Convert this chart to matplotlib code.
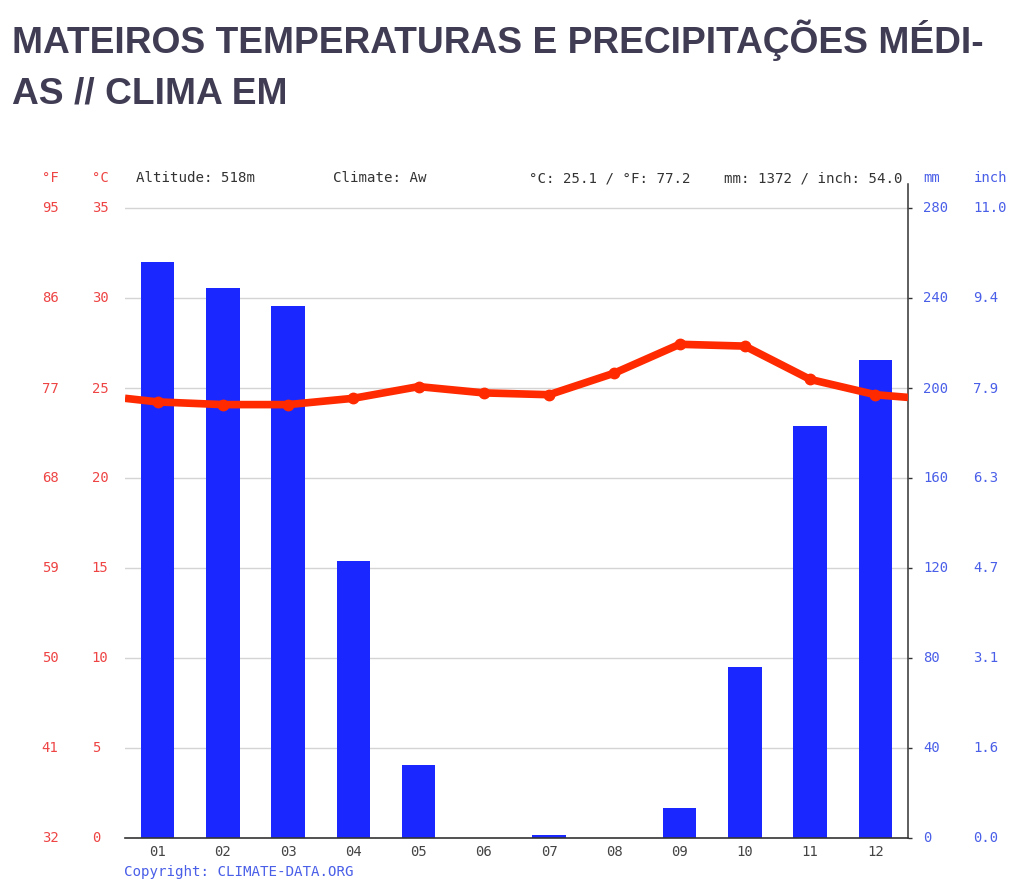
import matplotlib
matplotlib.use("Agg")
import matplotlib.pyplot as plt
import numpy as np

months = ["01", "02", "03", "04", "05", "06", "07", "08", "09", "10", "11", "12"]
precip_mm = [255.6, 244.4, 236.4, 122.7, 32.4, 0, 1.3, 0, 13.3, 75.6, 182.7, 212.4]
temp_c = [24.2, 24.05, 24.05, 24.4, 25.05, 24.7, 24.6, 25.8, 27.4, 27.3, 25.45, 24.6]
# the line runs on past the first and last month to the plot edges
temp_edges = [24.4, 24.45]

c_ticks = [0, 5, 10, 15, 20, 25, 30, 35]
f_labels = ["32", "41", "50", "59", "68", "77", "86", "95"]
mm_ticks = [0, 40, 80, 120, 160, 200, 240, 280]
inch_labels = ["0.0", "1.6", "3.1", "4.7", "6.3", "7.9", "9.4", "11.0"]

title_lines = ["MATEIROS TEMPERATURAS E PRECIPITAÇÕES MÉDI-", "AS // CLIMA EM"]

RED = "#ff2a00"
RED_TEXT = "#ee4444"
BLUE = "#1a28ff"
BLUE_TEXT = "#4a5fe8"
DARK = "#333333"
MONO = "DejaVu Sans Mono"

W, H = 1024, 895
fig = plt.figure(figsize=(W / 100, H / 100), dpi=100)

# axes box in pixels: the right spine stands above the 35 degree line
left, right, top, bottom = 125, 908, 184.5, 838.5
ax = fig.add_axes([left / W, 1 - bottom / H, (right - left) / W, (bottom - top) / H])
ymax_c = (bottom - top) / 18.0
ax.set_xlim(0, 12)
ax.set_ylim(0, ymax_c)

ax_mm = ax.twinx()
ax_mm.set_ylim(0, ymax_c * 8)

x = np.arange(12) + 0.5
ax.set_zorder(ax_mm.get_zorder() + 1)
ax.patch.set_visible(False)
ax_mm.set_axisbelow(True)

for v in c_ticks[1:]:
    ax_mm.axhline(v * 8, color="#d4d4d4", lw=1.0, zorder=1)
ax_mm.bar(x, precip_mm, width=0.51, color=BLUE, zorder=2)

line_x = np.concatenate([[0], x, [12]])
line_y = [temp_edges[0]] + temp_c + [temp_edges[1]]
ax.plot(line_x, line_y, color=RED, lw=5.5, solid_capstyle="butt", zorder=3)
ax.plot(x, temp_c, "o", color=RED, ms=7.5, zorder=3)

for s in ["top", "left"]:
    ax.spines[s].set_visible(False)
    ax_mm.spines[s].set_visible(False)
ax.spines["right"].set_visible(False)
ax_mm.spines["right"].set_color(DARK)
ax_mm.spines["right"].set_linewidth(1.1)
ax.spines["bottom"].set_color(DARK)
ax.spines["bottom"].set_linewidth(1.2)
ax_mm.spines["bottom"].set_visible(False)

ax.set_xticks(np.arange(13))
ax.set_xticklabels([])
ax.set_xticks(x, minor=True)
ax.set_xticklabels(months, minor=True, family=MONO, fontsize=10, color="#444444")
ax.tick_params(axis="x", which="major", direction="inout", length=5, width=1, color=DARK)
ax.tick_params(axis="x", which="minor", length=0, pad=5)

ax.set_yticks(c_ticks)
ax.set_yticklabels([str(v) for v in c_ticks], family=MONO, fontsize=10, color=RED_TEXT,
                   ha="left", va="center")
ax.tick_params(axis="y", length=0, pad=24)

ax_mm.set_yticks(mm_ticks)
ax_mm.set_yticklabels([str(v) for v in mm_ticks], family=MONO, fontsize=10, color=BLUE_TEXT,
                      va="center")
ax_mm.tick_params(axis="y", length=3, width=1, color=DARK, pad=8)

# extra label columns for fahrenheit and inches
ax_f = ax.twinx()
ax_f.set_ylim(ax.get_ylim())
ax_f.yaxis.set_ticks_position("left")
ax_f.set_yticks(c_ticks)
ax_f.set_yticklabels(f_labels, family=MONO, fontsize=10, color=RED_TEXT, ha="left", va="center")
ax_f.tick_params(axis="y", length=0, pad=60)
ax_f.patch.set_visible(False)
for s in ax_f.spines.values():
    s.set_visible(False)
ax_f.set_xticks([])

ax_in = ax.twinx()
ax_in.set_ylim(ax.get_ylim())
ax_in.set_yticks(c_ticks)
ax_in.set_yticklabels(inch_labels, family=MONO, fontsize=10, color=BLUE_TEXT, va="center")
ax_in.tick_params(axis="y", length=0, pad=47)
ax_in.patch.set_visible(False)
for s in ax_in.spines.values():
    s.set_visible(False)
ax_in.set_xticks([])


def px_text(px, py, s, color, size=10, ha="left"):
    fig.text(px / W, 1 - py / H, s, color=color, family=MONO, fontsize=size, ha=ha, va="center")


px_text(42, 178, "°F", RED_TEXT)
px_text(92, 178, "°C", RED_TEXT)
px_text(136, 178, "Altitude: 518m", DARK, 10.2)
px_text(333, 178, "Climate: Aw", DARK, 10.2)
px_text(529, 178, "°C: 25.1 / °F: 77.2", DARK, 10.2)
px_text(724, 178, "mm: 1372 / inch: 54.0", DARK, 10.2)
px_text(923, 178, "mm", BLUE_TEXT)
px_text(974, 178, "inch", BLUE_TEXT)
px_text(124, 872, "Copyright: CLIMATE-DATA.ORG", BLUE_TEXT, 10.2)

for line, py in zip(title_lines, [53, 103]):
    fig.text(12 / W, 1 - py / H, line, family="Liberation Sans", fontweight="bold",
             fontsize=26.7, color="#3f3c54", ha="left", va="baseline")

fig.savefig("out.png", dpi=100)
plt.close(fig)
